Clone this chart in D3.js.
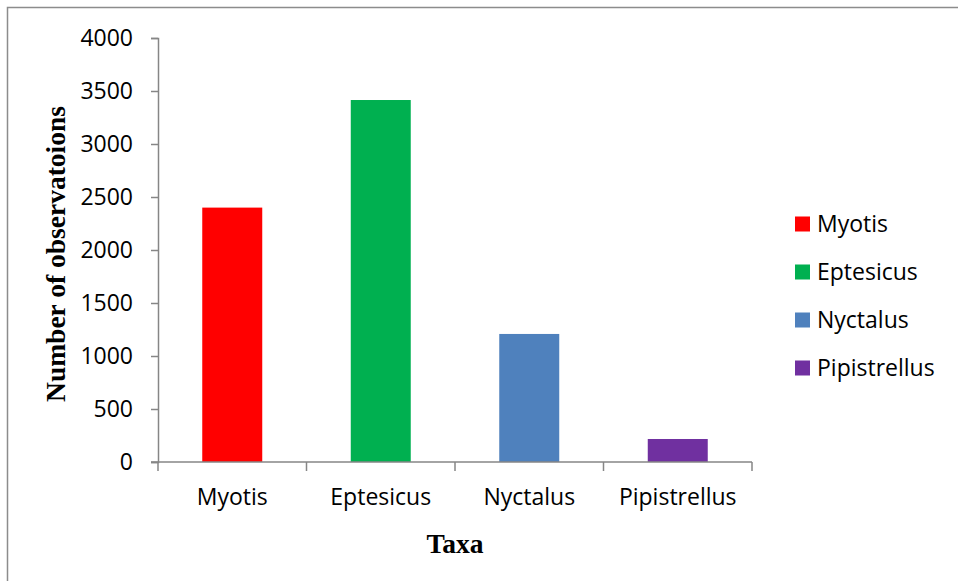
<!DOCTYPE html>
<html>
<head>
<meta charset="utf-8">
<script src="https://cdn.jsdelivr.net/npm/d3@7/dist/d3.min.js"></script>
<style>
  html, body { margin: 0; padding: 0; background: #fff; }
  svg { display: block; }
</style>
</head>
<body>
<svg id="chart" width="958" height="581"></svg>
<script>
// Bat observations per genus
const taxa = ["Myotis", "Eptesicus", "Nyctalus", "Pipistrellus"];
const observations = [2400, 3415, 1208, 217];
const barColors = ["#ff0000", "#00b050", "#4f81bd", "#7030a0"];
const yTicks = [0, 500, 1000, 1500, 2000, 2500, 3000, 3500, 4000];

const svg = d3.select("#chart");
const axisColor = "#868686";
const sansFont = "'Open Sans', sans-serif";
const serifFont = "'Liberation Serif', 'Times New Roman', serif";

// outer frame (top and left edges)
svg.append("path")
  .attr("d", "M7.5,958 V7.5 H958")
  .attr("fill", "none")
  .attr("stroke", "#8c8c8c")
  .attr("stroke-width", 1.5);

const plot = { left: 158, right: 752, top: 38, bottom: 462 };

const x = d3.scaleBand()
  .domain(taxa)
  .range([plot.left, plot.right])
  .paddingInner(0.596)
  .paddingOuter(0.298);

const xCat = d3.scaleBand()
  .domain(taxa)
  .range([plot.left, plot.right]);

const y = d3.scaleLinear()
  .domain([0, 4000])
  .range([plot.bottom, plot.top]);

// bars
svg.append("g")
  .selectAll("rect")
  .data(taxa)
  .join("rect")
  .attr("x", d => x(d))
  .attr("width", x.bandwidth())
  .attr("y", (d, i) => y(observations[i]))
  .attr("height", (d, i) => y(0) - y(observations[i]))
  .attr("fill", (d, i) => barColors[i]);

// y axis
const yAxis = svg.append("g")
  .attr("transform", `translate(${plot.left},0)`)
  .call(d3.axisLeft(y).tickValues(yTicks).tickSize(7).tickPadding(18).tickFormat(d3.format("d")));
yAxis.select(".domain").attr("stroke", axisColor).attr("stroke-width", 1.5);
yAxis.selectAll(".tick line").attr("stroke", axisColor).attr("stroke-width", 1.5);
yAxis.selectAll(".tick text")
  .attr("font-family", sansFont)
  .attr("font-size", 23)
  .attr("fill", "#000")
  .attr("dy", "0.34em");

// x axis with category boundary ticks
const boundaries = taxa.map(d => xCat(d)).concat([plot.right]);
const xAxisG = svg.append("g");
xAxisG.append("line")
  .attr("x1", plot.left - 7).attr("x2", plot.right)
  .attr("y1", plot.bottom).attr("y2", plot.bottom)
  .attr("stroke", axisColor).attr("stroke-width", 1.5);
xAxisG.selectAll("line.tk")
  .data(boundaries)
  .join("line")
  .attr("class", "tk")
  .attr("x1", d => d).attr("x2", d => d)
  .attr("y1", plot.bottom).attr("y2", plot.bottom + 9)
  .attr("stroke", axisColor).attr("stroke-width", 1.5);
xAxisG.selectAll("text")
  .data(taxa)
  .join("text")
  .attr("x", d => xCat(d) + xCat.bandwidth() / 2)
  .attr("y", 505)
  .attr("text-anchor", "middle")
  .attr("font-family", sansFont)
  .attr("font-size", 23)
  .attr("fill", "#000")
  .text(d => d);

// axis titles
svg.append("text")
  .attr("transform", "translate(65,254) rotate(-90)")
  .attr("text-anchor", "middle")
  .attr("font-family", serifFont)
  .attr("font-weight", "bold")
  .attr("font-size", 27.5)
  .attr("fill", "#000")
  .text("Number of observatoions");

svg.append("text")
  .attr("x", 455)
  .attr("y", 553)
  .attr("text-anchor", "middle")
  .attr("font-family", serifFont)
  .attr("font-weight", "bold")
  .attr("font-size", 27.5)
  .attr("fill", "#000")
  .text("Taxa");

// legend
const legend = svg.append("g")
  .selectAll("g")
  .data(taxa)
  .join("g")
  .attr("transform", (d, i) => `translate(795,${224 + i * 48})`);
legend.append("rect")
  .attr("x", 0).attr("y", -7.5)
  .attr("width", 15).attr("height", 15)
  .attr("fill", (d, i) => barColors[i]);
legend.append("text")
  .attr("x", 22)
  .attr("y", 0)
  .attr("dy", "0.36em")
  .attr("font-family", sansFont)
  .attr("font-size", 23)
  .attr("fill", "#000")
  .text(d => d);
</script>
</body>
</html>
